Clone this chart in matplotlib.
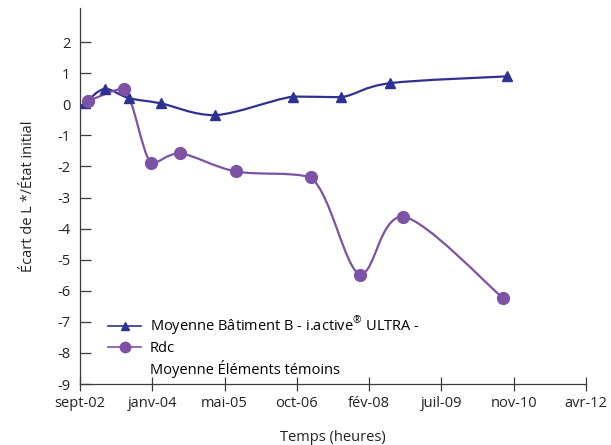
import matplotlib
matplotlib.use("Agg")
import matplotlib.pyplot as plt
from matplotlib.path import Path
from matplotlib.patches import PathPatch
from matplotlib.lines import Line2D
import numpy as np

# x in days since sept-02 (Excel date axis, major unit = 500 days)
tick_labels = ["sept-02", "janv-04", "mai-05", "oct-06", "fév-08",
               "juil-09", "nov-10", "avr-12"]

bat_x = [35, 173, 339, 560, 933, 1473, 1805, 2144, 2953]
bat_y = [0.05, 0.5, 0.2, 0.03, -0.35, 0.25, 0.23, 0.68, 0.9]

rdc_x = [55, 304, 491, 692, 1079, 1597, 1936, 2234, 2925]
rdc_y = [0.1, 0.5, -1.9, -1.58, -2.16, -2.35, -5.48, -3.61, -6.23]

blue = "#2E3192"
purple = "#7D52A5"

plt.rcParams['font.family'] = ['Open Sans', 'DejaVu Sans']
plt.rcParams['mathtext.fontset'] = 'custom'
plt.rcParams['mathtext.rm'] = 'Open Sans'


def smooth_path(xs, ys):
    # smoothed line: Catmull-Rom bezier, control points kept inside
    # the y range of each segment so the curve does not overshoot
    p = np.column_stack([xs, ys]).astype(float)
    pts = np.vstack([p[0], p, p[-1]])
    verts = [tuple(p[0])]
    codes = [Path.MOVETO]
    for i in range(1, len(pts) - 2):
        p0, p1, p2, p3 = pts[i - 1], pts[i], pts[i + 1], pts[i + 2]
        c1 = p1 + (p2 - p0) / 6.0
        c2 = p2 - (p3 - p1) / 6.0
        lo, hi = min(p1[1], p2[1]), max(p1[1], p2[1])
        c1[1] = np.clip(c1[1], lo, hi)
        c2[1] = np.clip(c2[1], lo, hi)
        verts += [tuple(c1), tuple(c2), tuple(p2)]
        codes += [Path.CURVE4] * 3
    return Path(verts, codes)


fig = plt.figure(figsize=(6.11, 4.45), dpi=100)
ax = fig.add_axes([80/611, 1 - 384/445, 506/611, 376/445])

ax.add_patch(PathPatch(smooth_path(bat_x, bat_y), fill=False,
                       edgecolor=blue, lw=1.6, zorder=2))
ax.add_patch(PathPatch(smooth_path(rdc_x, rdc_y), fill=False,
                       edgecolor=purple, lw=1.6, zorder=2))
ax.plot(bat_x, bat_y, ls='none', marker='^', ms=7.5, color=blue, zorder=3)
ax.plot(rdc_x, rdc_y, ls='none', marker='o', ms=8.5, color=purple, zorder=3)

ax.set_xlim(0, 3500)
ax.set_ylim(-9, 3.1)
ax.set_xticks(np.arange(0, 3501, 500))
ax.set_xticklabels(tick_labels)
ax.set_yticks(np.arange(-9, 3))
ax.set_yticklabels([str(v) for v in range(-9, 3)])

for s in ["top", "right"]:
    ax.spines[s].set_visible(False)
for s in ["left", "bottom"]:
    ax.spines[s].set_color("#3a3a3a")
    ax.spines[s].set_linewidth(0.9)

ax.tick_params(axis='y', direction='in', length=8, width=0.9,
               color="#3a3a3a", pad=7, labelsize=10.5, labelcolor="#222222")
ax.tick_params(axis='x', direction='inout', length=9.5, width=0.9,
               color="#3a3a3a", pad=4, labelsize=10.5, labelcolor="#222222")

ax.set_ylabel("Écart de L *∕État initial", fontsize=10.5, color="#222222")
ax.set_xlabel("Temps (heures)", fontsize=10.5, color="#222222")
ax.yaxis.set_label_coords(-0.087, 0.5)
ax.xaxis.set_label_coords(0.5, -0.122)

handles = [
    Line2D([], [], color=blue, lw=1.2, marker='^', ms=5.5),
    Line2D([], [], color=purple, lw=1.2, marker='o', ms=7.5),
    Line2D([], [], ls='none', marker='none'),
]
labels = ["Moyenne Bâtiment B - i.active$^{\\mathrm{®}}$ ULTRA -", "Rdc",
          "Moyenne Éléments témoins"]
ax.legend(handles, labels, loc='upper left', bbox_to_anchor=(0.055, 0.185),
          frameon=False, fontsize=10.5, handlelength=2.3, handletextpad=0.6,
          labelspacing=0.28, borderpad=0, borderaxespad=0)

fig.savefig("out.png", dpi=100)
